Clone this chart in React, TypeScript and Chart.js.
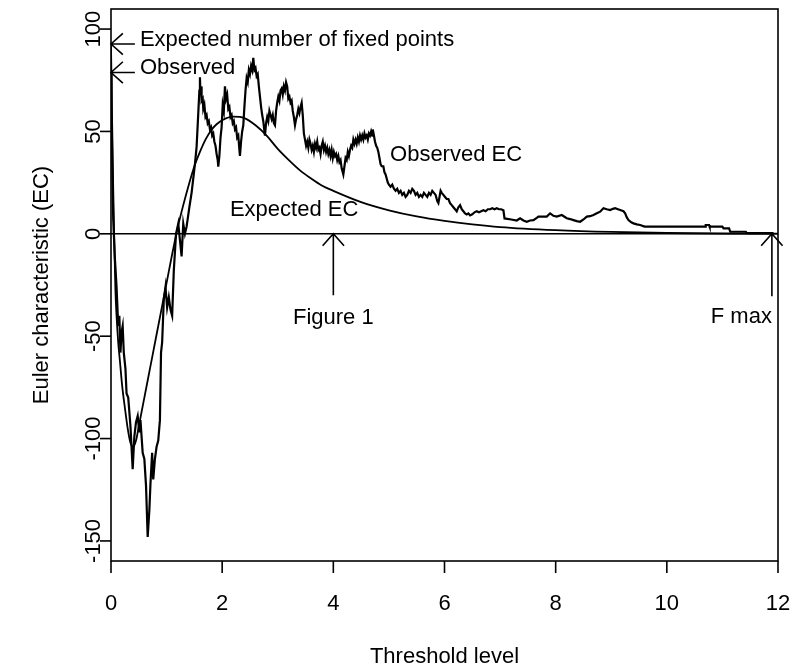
import React, { useEffect, useRef } from "react";
import { Chart, registerables } from "chart.js";

Chart.register(...registerables);

// Observed Euler characteristic, rows of 10 aligned with obsY
const obsX = [
  0, 0.01, 0.025, 0.04, 0.07, 0.1, 0.13, 0.15, 0.17, 0.19,
  0.21, 0.23, 0.26, 0.28, 0.31, 0.35, 0.39, 0.42, 0.45, 0.48,
  0.51, 0.53, 0.57, 0.6, 0.63, 0.66, 0.69, 0.71, 0.74, 0.76,
  0.79, 0.82, 0.85, 0.88, 0.9, 0.92, 0.95, 0.98, 1.01, 1.04,
  1.07, 1.1, 1.13, 1.17, 1.21, 1.24, 1.27, 1.3, 1.33, 1.36,
  1.41, 1.45, 1.51, 1.54, 1.57, 1.59, 1.6, 1.61, 1.62, 1.63,
  1.65, 1.66, 1.68, 1.7, 1.72, 1.74, 1.76, 1.78, 1.8, 1.82,
  1.84, 1.86, 1.88, 1.9, 1.92, 1.93, 1.95, 1.97, 1.99, 2.01,
  2.03, 2.05, 2.07, 2.09, 2.11, 2.13, 2.15, 2.17, 2.19, 2.21,
  2.23, 2.25, 2.27, 2.29, 2.31, 2.32, 2.34, 2.36, 2.38, 2.4,
  2.42, 2.44, 2.46, 2.48, 2.5, 2.52, 2.54, 2.56, 2.58, 2.6,
  2.62, 2.64, 2.66, 2.68, 2.7, 2.72, 2.74, 2.76, 2.77, 2.79,
  2.81, 2.83, 2.85, 2.87, 2.89, 2.91, 2.93, 2.95, 2.97, 2.99,
  3.01, 3.03, 3.05, 3.07, 3.09, 3.11, 3.13, 3.15, 3.17, 3.19,
  3.21, 3.23, 3.25, 3.27, 3.29, 3.31, 3.33, 3.35, 3.37, 3.39,
  3.41, 3.43, 3.45, 3.47, 3.49, 3.51, 3.53, 3.55, 3.57, 3.59,
  3.61, 3.63, 3.65, 3.67, 3.69, 3.71, 3.73, 3.75, 3.77, 3.79,
  3.81, 3.83, 3.85, 3.87, 3.89, 3.91, 3.93, 3.95, 3.97, 3.99,
  4.01, 4.03, 4.05, 4.07, 4.09, 4.11, 4.13, 4.15, 4.17, 4.18,
  4.2, 4.22, 4.24, 4.26, 4.28, 4.3, 4.32, 4.34, 4.36, 4.38,
  4.4, 4.42, 4.44, 4.46, 4.48, 4.5, 4.52, 4.54, 4.56, 4.58,
  4.6, 4.62, 4.64, 4.66, 4.68, 4.7, 4.71, 4.73, 4.75, 4.77,
  4.79, 4.81, 4.83, 4.85, 4.87, 4.9, 4.92, 4.94, 4.96, 4.98,
  5.0, 5.03, 5.06, 5.09, 5.12, 5.15, 5.18, 5.21, 5.24, 5.27,
  5.3, 5.33, 5.36, 5.39, 5.42, 5.45, 5.48, 5.51, 5.54, 5.57,
  5.6, 5.63, 5.66, 5.69, 5.72, 5.75, 5.78, 5.81, 5.84, 5.87,
  5.89, 5.91, 5.93, 5.95, 5.98, 6.01, 6.04, 6.07, 6.1, 6.13,
  6.16, 6.19, 6.22, 6.25, 6.28, 6.31, 6.34, 6.37, 6.4, 6.43,
  6.46, 6.5, 6.54, 6.58, 6.62, 6.66, 6.7, 6.74, 6.78, 6.82,
  6.86, 6.9, 6.94, 6.98, 7.02, 7.06, 7.08, 7.2, 7.3, 7.36,
  7.42, 7.48, 7.54, 7.6, 7.66, 7.69, 7.78, 7.84, 7.9, 7.96,
  8.02, 8.11, 8.2, 8.26, 8.32, 8.38, 8.44, 8.5, 8.56, 8.62,
  8.68, 8.74, 8.8, 8.86, 8.92, 8.98, 9.03, 9.07, 9.12, 9.16,
  9.22, 9.25, 9.28, 9.31, 9.36, 9.4, 9.46, 9.52, 9.6, 10.69,
  10.7, 10.76, 10.77, 11.0, 11.02, 11.12, 11.14, 11.42, 11.44, 11.92,
];
const obsY = [
  79, 60, 30, 7, -12, -26, -45, -40, -58, -48,
  -45, -58, -66, -78, -80, -94, -115, -99, -92, -89,
  -97, -91, -107, -110, -123, -148, -135, -122, -107, -120,
  -110, -104, -101, -91, -58, -53, -32, -26, -36, -31,
  -37, -40, -18, 0, 5, -3, -11, 5, 0, 3.5,
  13, 20, 34, 42.5, 58.8, 70, 76.5, 68, 72, 65,
  66, 61, 63, 57, 58, 54, 55, 51, 52, 48,
  49, 45, 43, 39, 36, 32.8, 38, 47, 52, 63,
  60, 72, 66, 68, 61, 62, 57, 58, 54, 55,
  51, 52, 47, 48, 41, 38, 45, 50, 53, 62,
  70, 76, 74, 80, 78, 82, 80, 86, 80, 81,
  77, 78, 72, 67, 62, 58, 55, 50, 48, 54,
  57, 55, 60, 58, 56, 58, 54, 53, 60, 64,
  67, 65, 70, 71, 68, 72, 70, 74, 72, 66,
  67, 64, 65, 60, 57, 53, 56, 58, 61, 59,
  62, 64, 58, 49, 46, 43, 45, 42, 46, 44,
  41, 43, 40, 44, 42, 45, 41, 42, 39, 43,
  45, 41, 43, 40, 42, 39, 41, 38, 41, 37,
  40, 38, 39, 36, 38, 35, 36, 32, 30, 29,
  33, 37, 36, 40, 38, 41, 43, 42, 46, 44,
  46, 44, 47, 45, 48, 46, 48, 46, 49, 47,
  48, 46, 49, 48, 50, 48, 51, 48, 45, 43,
  42, 40, 37, 34, 33, 33, 30, 29, 27, 25,
  24, 23, 24, 22, 21, 22, 20, 21, 19, 20,
  18, 19, 21, 20, 22, 21, 19, 20, 18, 19,
  18, 20, 19, 18, 20, 19, 21, 20, 19, 16,
  15, 18, 21, 20, 19, 18, 17, 17, 15, 14,
  13, 12, 11, 13, 14, 12, 11, 10, 9.5, 10,
  9, 9.5, 10.5, 11, 10.5, 11, 11.5, 11, 12, 12,
  12.5, 12, 12.5, 12, 12, 11.5, 7.5, 7, 6.5, 7.6,
  6.5, 5.9, 6.5, 6.7, 7.8, 8.4, 8.4, 8.4, 10, 8.8,
  8.4, 9.2, 7.6, 7.2, 6.7, 6.2, 5.9, 7, 8.4, 8.6,
  9.2, 10, 10.8, 12.5, 12, 11.6, 12.2, 12.5, 12, 11.6,
  11, 10, 8, 6.7, 5.6, 5.1, 4.6, 4.3, 3.5, 3.5,
  4.3, 4.3, 3.5, 3.5, 2.7, 2.7, 1, 1, 0.3, 0.3,
];

// Expected Euler characteristic
const expX = [
  0, 0.02, 0.04, 0.06, 0.08, 0.1, 0.13, 0.16, 0.2, 0.25, 0.3, 0.35, 0.4, 0.45, 0.5, 0.6, 0.7, 0.8, 0.9,
  1.0, 1.1, 1.2, 1.3, 1.4, 1.5, 1.6, 1.7, 1.8, 1.9, 2.0, 2.2, 2.4, 2.6, 2.8, 3.0, 3.2, 3.4, 3.6, 3.8,
  4.0, 4.5, 5.0, 5.5, 6.0, 6.5, 7.0, 8, 9, 10, 11, 12,
];
const expY = [
  92, 55, 22, -5, -28, -40, -53, -62, -74, -85, -95, -102, -104, -101, -94, -80, -66, -52, -38,
  -24, -10, 3, 14, 24, 33, 40, 46, 50.5, 53.5, 55.5, 57.2, 56.5, 53, 48, 41.5, 36, 31, 27, 23.5,
  21, 15.5, 11.5, 8.5, 6.3, 4.6, 3.3, 1.8, 0.9, 0.4, 0.15, 0.05,
];

const xTicks = [0, 2, 4, 6, 8, 10, 12];
const yTicks = [-150, -100, -50, 0, 50, 100];
const xMin = 0;
const xMax = 12;
const yMin = -159.8;
const yMax = 109.8;
const xTitle = "Threshold level";
const yTitle = "Euler characteristic (EC)";

// Annotation texts and anchors (data coordinates)
const labelTexts = ["Expected number of fixed points", "Observed", "Expected EC", "Observed EC", "Figure 1", "F max"];
const labelX = [0.52, 0.52, 2.14, 5.02, 4.0, 11.89];
const labelY = [91.7, 77.9, 8.7, 35.5, -44.2, -43.8];
const labelAlign = ["left", "left", "left", "left", "center", "right"];

// Arrows: from (x0,y0) to tip (x1,y1)
const arrowX0 = [0.43, 0.43, 4.0, 11.89];
const arrowY0 = [92.7, 78.8, -30, -30.5];
const arrowX1 = [0, 0, 4.0, 11.89];
const arrowY1 = [92.7, 78.8, 0, 0];

const FONT = "22px 'Liberation Sans', Arial, Helvetica, sans-serif";

function drawArrow(ctx: CanvasRenderingContext2D, x0: number, y0: number, x1: number, y1: number) {
  const ang = Math.atan2(y1 - y0, x1 - x0);
  const L = 16;
  const a = (42 * Math.PI) / 180;
  ctx.beginPath();
  ctx.moveTo(x0, y0);
  ctx.lineTo(x1, y1);
  ctx.moveTo(x1 - L * Math.cos(ang - a), y1 - L * Math.sin(ang - a));
  ctx.lineTo(x1, y1);
  ctx.lineTo(x1 - L * Math.cos(ang + a), y1 - L * Math.sin(ang + a));
  ctx.stroke();
}

const decorPlugin = {
  id: "decor",
  beforeDatasetsDraw(chart: any) {
    const ctx = chart.ctx as CanvasRenderingContext2D;
    const xs = chart.scales.x;
    const ys = chart.scales.y;
    const y0 = ys.getPixelForValue(0);
    ctx.save();
    ctx.strokeStyle = "#000";
    ctx.lineWidth = 1.6;
    ctx.beginPath();
    ctx.moveTo(xs.left, y0);
    ctx.lineTo(xs.right, y0);
    ctx.stroke();
    ctx.restore();
  },
  afterDraw(chart: any) {
    const ctx = chart.ctx as CanvasRenderingContext2D;
    const xs = chart.scales.x;
    const ys = chart.scales.y;
    const area = chart.chartArea;
    ctx.save();
    ctx.strokeStyle = "#000";
    ctx.fillStyle = "#000";
    ctx.lineWidth = 1.6;
    ctx.strokeRect(area.left, area.top, area.right - area.left, area.bottom - area.top);
    ctx.font = FONT;
    ctx.textAlign = "center";
    ctx.textBaseline = "alphabetic";
    for (const t of xTicks) {
      const px = xs.getPixelForValue(t);
      ctx.beginPath();
      ctx.moveTo(px, area.bottom);
      ctx.lineTo(px, area.bottom + 12);
      ctx.stroke();
      ctx.fillText(String(t), px, area.bottom + 49);
    }
    for (const t of yTicks) {
      const py = ys.getPixelForValue(t);
      ctx.beginPath();
      ctx.moveTo(area.left, py);
      ctx.lineTo(area.left - 11, py);
      ctx.stroke();
      ctx.save();
      ctx.translate(area.left - 11, py);
      ctx.rotate(-Math.PI / 2);
      ctx.textAlign = "center";
      ctx.fillText(String(t), 0, 0);
      ctx.restore();
    }
    ctx.textAlign = "center";
    ctx.fillText(xTitle, (area.left + area.right) / 2, area.bottom + 102);
    ctx.save();
    ctx.translate(area.left - 63, (area.top + area.bottom) / 2);
    ctx.rotate(-Math.PI / 2);
    ctx.fillText(yTitle, 0, 0);
    ctx.restore();
    for (let i = 0; i < labelTexts.length; i++) {
      ctx.textAlign = labelAlign[i] as CanvasTextAlign;
      ctx.fillText(labelTexts[i], xs.getPixelForValue(labelX[i]), ys.getPixelForValue(labelY[i]));
    }
    ctx.lineWidth = 1.6;
    for (let i = 0; i < arrowX0.length; i++) {
      drawArrow(
        ctx,
        xs.getPixelForValue(arrowX0[i]),
        ys.getPixelForValue(arrowY0[i]),
        xs.getPixelForValue(arrowX1[i]),
        ys.getPixelForValue(arrowY1[i])
      );
    }
    ctx.restore();
  },
};

export default function App() {
  const ref = useRef<HTMLCanvasElement | null>(null);
  useEffect(() => {
    if (!ref.current) return;
    const chart = new Chart(ref.current, {
      type: "line",
      data: {
        datasets: [
          {
            label: "Observed EC",
            data: obsX.map((x, i) => ({ x, y: obsY[i] })),
            borderColor: "#000",
            borderWidth: 2.2,
            pointRadius: 0,
            tension: 0,
            fill: false,
          },
          {
            label: "Expected EC",
            data: expX.map((x, i) => ({ x, y: expY[i] })),
            borderColor: "#000",
            borderWidth: 1.8,
            pointRadius: 0,
            cubicInterpolationMode: "monotone",
            fill: false,
          },
        ],
      },
      options: {
        animation: false,
        responsive: true,
        maintainAspectRatio: false,
        layout: { padding: { left: 0, top: 9, right: 12, bottom: 0 } },
        plugins: { legend: { display: false }, tooltip: { enabled: false }, title: { display: false } },
        events: [],
        scales: {
          x: {
            type: "linear",
            min: xMin,
            max: xMax,
            grid: { display: false },
            border: { display: false },
            ticks: { display: false },
            afterFit: (s: any) => {
              s.height = 106;
            },
          },
          y: {
            type: "linear",
            min: yMin,
            max: yMax,
            grid: { display: false },
            border: { display: false },
            ticks: { display: false },
            afterFit: (s: any) => {
              s.width = 111;
            },
          },
        },
      } as any,
      plugins: [decorPlugin],
    });
    return () => chart.destroy();
  }, []);
  return (
    <div style={{ position: "fixed", left: 0, top: 0, width: 790, height: 667, background: "#fff" }}>
      <canvas ref={ref} />
    </div>
  );
}
